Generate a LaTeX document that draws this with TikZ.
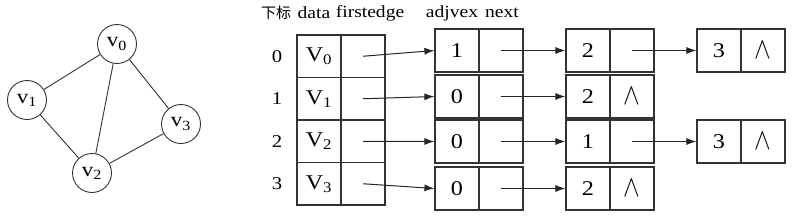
\documentclass[tikz,border=0pt]{standalone}
\usepackage{fontspec}
\setmainfont[FakeStretch=1.15]{Liberation Serif}
\newfontfamily\cjk{Noto Sans CJK SC}
\usetikzlibrary{arrows.meta}
\begin{document}
\begin{tikzpicture}[x=1pt,y=-1pt,
  vtx/.style={circle,draw=black!80,line width=0.9pt,minimum size=39pt,inner sep=0pt,font=\fontsize{20}{22}\selectfont},
  gedge/.style={draw=black!80,line width=0.9pt},
  cell/.style={rectangle,draw=black!80,line width=1.2pt,minimum width=44pt,minimum height=42.5pt,inner sep=0pt,anchor=center,font=\fontsize{21}{23}\selectfont},
  ecell/.style={cell,minimum height=43pt},
  idx/.style={font=\fontsize{18}{20}\selectfont},
  hdr/.style={font=\fontsize{17}{19}\selectfont,inner sep=0pt},
  ptr/.style={line width=1pt,black!85,-{Latex[length=10pt,width=7pt]}},
  nil/.style={font=\normalsize}
]
\newcommand{\nilsym}{\scalebox{2.5}[3.0]{$\wedge$}}
\useasboundingbox (0,0) rectangle (800,217);
% graph
\node[vtx] (g0) at (117,44) {v\textsubscript{0}};
\node[vtx] (g1) at (27,100) {v\textsubscript{1}};
\node[vtx] (g2) at (92,173) {v\textsubscript{2}};
\node[vtx] (g3) at (181,124) {v\textsubscript{3}};
\draw[gedge] (g0) -- (g1);
\draw[gedge] (g0) -- (g2);
\draw[gedge] (g0) -- (g3);
\draw[gedge] (g1) -- (g2);
\draw[gedge] (g2) -- (g3);
% header
\node[hdr] (h0) at (276,13) {\cjk\fontsize{15}{17}\selectfont 下标};
\node[hdr] (h1) at (314,13) {data};
\node[hdr] (h2) at (370,13) {firstedge};
\node[hdr] (h3) at (452,13) {adjvex};
\node[hdr] (h4) at (502,13) {next};
% vertex table
\foreach \i/\y in {0/56.25,1/98.75,2/141.25,3/183.75}{
  \node[idx] (i\i) at (277,\y) {\i};
  \node[cell] (d\i) at (319,\y) {V\textsubscript{\i}};
  \node[cell] (p\i) at (363,\y) {};
}
% edge nodes
\node[ecell] (a00) at (457,50.5) {1};
\node[ecell] (n00) at (501,50.5) {};
\node[ecell] (a01) at (588,50.5) {2};
\node[ecell] (n01) at (632,50.5) {};
\node[ecell] (a02) at (719,50.5) {3};
\node[ecell,nil] (n02) at (763,50.5) {\nilsym};

\node[ecell] (a10) at (457,96.5) {0};
\node[ecell] (n10) at (501,96.5) {};
\node[ecell] (a11) at (588,96.5) {2};
\node[ecell,nil] (n11) at (632,96.5) {\nilsym};

\node[ecell] (a20) at (457,141.5) {0};
\node[ecell] (n20) at (501,141.5) {};
\node[ecell] (a21) at (588,141.5) {1};
\node[ecell] (n21) at (632,141.5) {};
\node[ecell] (a22) at (719,141.5) {3};
\node[ecell,nil] (n22) at (763,141.5) {\nilsym};

\node[ecell] (a30) at (457,188.5) {0};
\node[ecell] (n30) at (501,188.5) {};
\node[ecell] (a31) at (588,188.5) {2};
\node[ecell,nil] (n31) at (632,188.5) {\nilsym};

% pointers
\draw[ptr] (p0.center) -- (a00.west);
\draw[ptr] (p1.center) -- (a10.west);
\draw[ptr] (p2.center) -- (a20.west);
\draw[ptr] (p3.center) -- (a30.west);
\draw[ptr] (n00.center) -- (a01.west);
\draw[ptr] (n10.center) -- (a11.west);
\draw[ptr] (n20.center) -- (a21.west);
\draw[ptr] (n30.center) -- (a31.west);
\draw[ptr] (n01.center) -- (a02.west);
\draw[ptr] (n21.center) -- (a22.west);
\end{tikzpicture}
\end{document}
